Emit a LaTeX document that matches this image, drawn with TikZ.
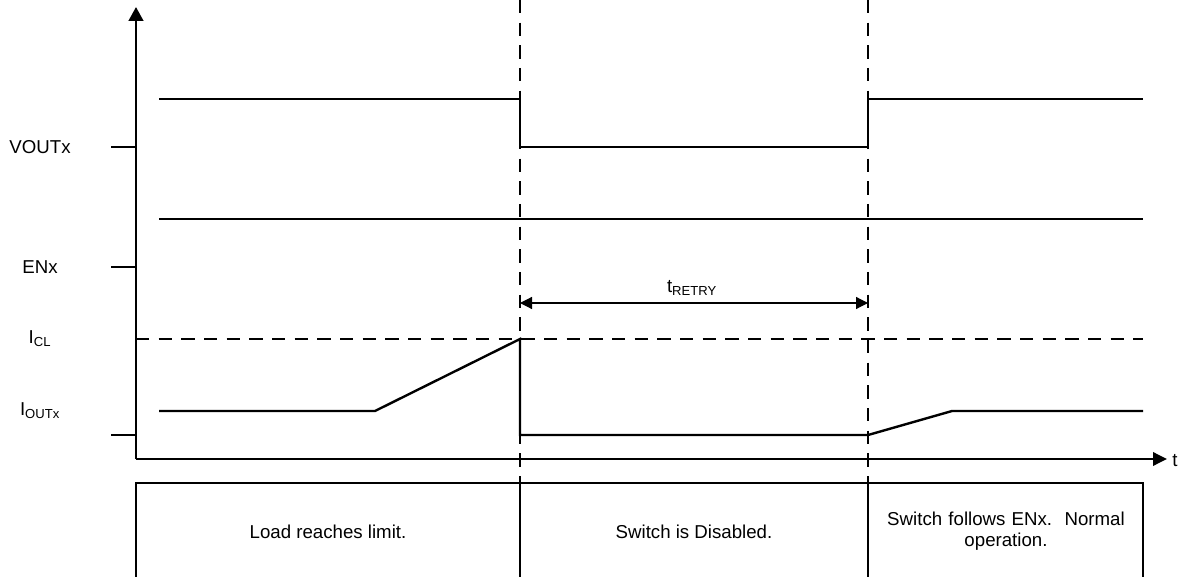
\documentclass[tikz,border=0pt]{standalone}
\usepackage{fontspec}
\setmainfont{Liberation Sans}
\usetikzlibrary{arrows.meta}
\begin{document}
\begin{tikzpicture}[x=0.75pt,y=-0.75pt,
  sig/.style={line width=1.8pt},
  dsh/.style={line width=1.6pt,dash pattern=on 10pt off 7pt},
  lbl/.style={font=\fontsize{14}{16}\selectfont,inner sep=0pt},
  axisarrow/.style={line width=1.8pt,-{Triangle[length=10.5pt,width=11pt]}}]
\useasboundingbox (0,0) rectangle (1182,577);
\clip (0,0) rectangle (1182,577);
% axes
\coordinate (o) at (136,459);
\coordinate (ytop) at (136,7);
\coordinate (xend) at (1167,459);
\draw[axisarrow] (o) -- (ytop);
\draw[line width=1.8pt,-{Triangle[length=10.5pt,width=10pt]}] (o) -- (xend);
\node[lbl,anchor=west] (t) at (1172,461) {t};
% ticks and labels
\foreach \yy/\nm in {147/v,267/e,435/i}{
  \coordinate (tk\nm) at (111,\yy);
  \coordinate (tke\nm) at (136,\yy);
  \draw[sig] (tk\nm) -- (tke\nm);
}
\node[lbl] (lv) at (40,147) {VOUTx};
\node[lbl] (le) at (40,267) {ENx};
\node[lbl] (lc) at (40,339) {I\textsubscript{CL}};
\node[lbl] (li) at (40,411) {I\textsubscript{OUTx}};
% vertical dashed markers
\coordinate (m1t) at (520,0);
\coordinate (m1b) at (520,483);
\coordinate (m2t) at (868,0);
\coordinate (m2b) at (868,483);
\draw[dsh] (m1t) -- (m1b);
\draw[dsh] (m2t) -- (m2b);
% ICL dashed
\coordinate (cl1) at (136,339);
\coordinate (cl2) at (1143,339);
\draw[dsh] (cl1) -- (cl2);
% VOUT
\draw[sig] (159,99) -- (520,99) -- (520,147) -- (868,147) -- (868,99) -- (1143,99);
% EN
\draw[sig] (159,219) -- (1143,219);
% IOUT
\draw[sig] (159,411) -- (375,411) -- (520,339) -- (520,435) -- (868,435) -- (952,411) -- (1143,411);
% tRETRY
\coordinate (r1) at (520,303);
\coordinate (r2) at (868,303);
\draw[line width=0.9pt,{Triangle[length=9pt,width=9pt]}-{Triangle[length=9pt,width=9pt]}] (r1) -- (r2);
\node[lbl] (tr) at (692,288) {t\textsubscript{RETRY}};
% bottom boxes
\draw[sig] (136,600) -- (136,483) -- (1143,483) -- (1143,600);
\draw[sig] (520,483) -- (520,600);
\draw[sig] (868,483) -- (868,600);
\node[lbl] (b1) at (328,532) {Load reaches limit.};
\node[lbl] (b2) at (694,532) {Switch is Disabled.};
\node[lbl,align=center,text width=220pt] (b3) at (1006,531) {Switch follows ENx.\ \ Normal\\operation.};
\end{tikzpicture}
\end{document}
